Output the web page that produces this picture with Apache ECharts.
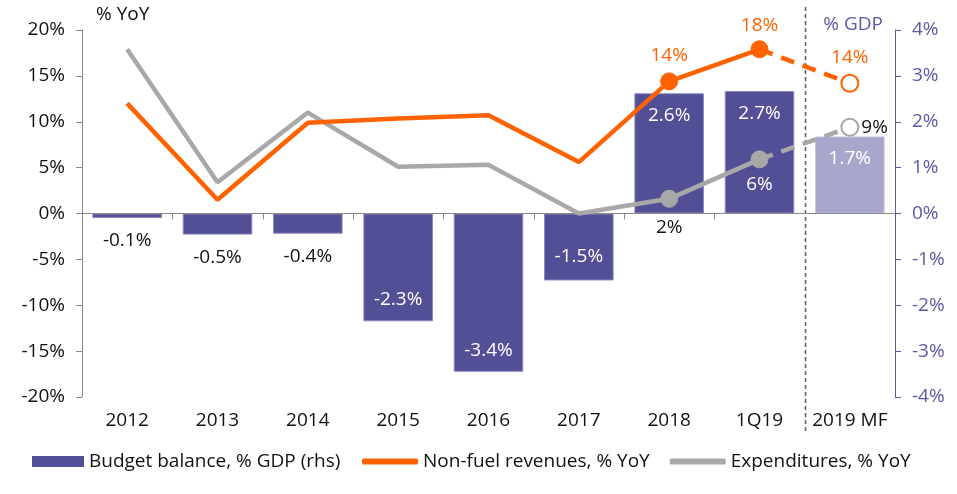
<!DOCTYPE html>
<html><head><meta charset="utf-8">
<script src="https://cdn.jsdelivr.net/npm/echarts@6/dist/echarts.min.js"></script>
<style>html,body{margin:0;padding:0;background:#fff}#c{width:957px;height:494px}</style>
</head><body><div id="c"></div>
<script>
const categories = ['2012','2013','2014','2015','2016','2017','2018','1Q19','2019 MF'];
const budgetBalance = [-0.1,-0.46,-0.44,-2.35,-3.45,-1.46,2.62,2.67,1.68];
const budgetLabels = ['-0.1%','-0.5%','-0.4%','-2.3%','-3.4%','-1.5%','2.6%','2.7%','1.7%'];
const nonFuelRevenues = [12.0,1.5,9.9,10.35,10.7,5.6,14.4,17.9,14.2];
const expenditures = [17.9,3.4,11.0,5.1,5.3,0.0,1.6,5.9,9.4];
const leftTicks = [-20,-15,-10,-5,0,5,10,15,20];
const rightTicks = [-4,-3,-2,-1,0,1,2,3,4];

const FONT = 'Open Sans';
const FS = 19;
const ORANGE = '#FF6200', GREY = '#A8A8A8', PURPLE = '#524F96', LIGHTP = '#A8A6CB', AXP = '#5B59A6';
const n = categories.length;

const barData = budgetBalance.map((v,i)=>{
  const neg = v < 0, small = Math.abs(v) < 1;
  const d = {value:v, itemStyle:{color: i===n-1?LIGHTP:PURPLE, borderColor: i===n-1?'#C7C6DE':'#8A88BC', borderWidth:1}};
  let pos, color='#fff', dist=14;
  if (small && neg) { pos='bottom'; color='#111'; dist=13; }
  else if (neg) { pos='insideBottom'; dist = (i===5?14:12); }
  else { pos='insideTop'; dist=13; }
  d.label = {show:true, position:pos, distance:dist, color:color, formatter: budgetLabels[i]};
  return d;
});

const solidPart = (arr)=>arr.map((v,i)=> i<n-1 ? v : null);
const dashPart = (arr)=>arr.map((v,i)=> i>=n-2 ? v : null);

function markerPts(arr, color, labels){
  return arr.map((v,i)=>{
    if (i===6 || i===7) {
      const o = {value:v, symbol:'circle', symbolSize:17, itemStyle:{color:color, borderColor:color}};
      if (labels[i]) o.label = labels[i];
      return o;
    }
    return {value:v, symbol:'none'};
  });
}

const legendText = {fontFamily:FONT, fontSize:FS, color:'#111'};
const option = {
  animation:false,
  textStyle:{fontFamily:FONT},
  grid:{left:82, right:62, top:30, bottom:97, containLabel:false},
  legend:[
    {left:32, top:452, padding:0, itemWidth:52, itemHeight:11, itemGap:20, textStyle:legendText,
     data:[{name:'Budget balance, % GDP (rhs)', icon:'rect'}]},
    {left:362, top:452, padding:0, itemWidth:56, itemHeight:6, itemGap:20, textStyle:legendText,
     data:[{name:'Non-fuel revenues, % YoY', icon:'roundRect'},{name:'Expenditures, % YoY', icon:'roundRect'}]}
  ],
  xAxis:{
    type:'category', data:categories,
    axisLine:{onZero:false, show:false},
    axisTick:{show:false},
    axisLabel:{fontFamily:FONT, fontSize:FS, color:'#111', margin:14, interval:0, hideOverlap:false}
  },
  yAxis:[
    {type:'value', min:-20, max:20, interval:5, name:'% YoY', nameLocation:'end',
     nameGap:6, nameTextStyle:{fontFamily:FONT, fontSize:FS, color:'#111', align:'left', padding:[0,0,0,14]},
     axisLine:{show:true, lineStyle:{color:'#888'}},
     axisTick:{show:true, length:6, lineStyle:{color:'#888'}},
     splitLine:{show:false},
     axisLabel:{fontFamily:FONT, fontSize:FS, color:'#111', margin:17, formatter:v=>v+'%'}},
    {type:'value', min:-4, max:4, interval:1, position:'right', name:'% GDP', nameLocation:'end',
     nameGap:5, nameTextStyle:{fontFamily:FONT, fontSize:FS, color:AXP, align:'right', verticalAlign:'middle', padding:[0,12,0,0]},
     axisLine:{show:true, lineStyle:{color:AXP}},
     axisTick:{show:true, length:6, lineStyle:{color:AXP}},
     splitLine:{show:false},
     axisLabel:{fontFamily:FONT, fontSize:FS, color:AXP, margin:17, formatter:v=>v+'%'}}
  ],
  series:[
    {name:'Budget balance, % GDP (rhs)', type:'bar', yAxisIndex:1, data:barData, barCategoryGap:'23%',
     itemStyle:{color:PURPLE}, label:{fontFamily:FONT, fontSize:FS}, z:2},
    {name:'Non-fuel revenues, % YoY', type:'line', yAxisIndex:0, data:markerPts(solidPart(nonFuelRevenues), ORANGE,
       {6:{show:true, position:'top', distance:7, color:ORANGE, formatter:'14%'}, 7:{show:true, position:'top', distance:5, color:ORANGE, formatter:'18%'}}),
     lineStyle:{color:ORANGE, width:4.5}, itemStyle:{color:ORANGE}, label:{fontFamily:FONT, fontSize:FS}, z:5},
    {name:'Expenditures, % YoY', type:'line', yAxisIndex:0, data:markerPts(solidPart(expenditures), GREY,
       {6:{show:true, position:'bottom', distance:10, color:'#111', formatter:'2%'}, 7:{show:true, position:'bottom', distance:7, color:'#fff', formatter:'6%'}}),
     lineStyle:{color:GREY, width:4.5}, itemStyle:{color:GREY}, label:{fontFamily:FONT, fontSize:FS}, z:4},
    {name:'revDash', type:'line', yAxisIndex:0,
     data:dashPart(nonFuelRevenues).map((v,i)=> i===n-1 ? {value:v, symbol:'circle', symbolSize:17,
        itemStyle:{color:'#fff', borderColor:ORANGE, borderWidth:2},
        label:{show:true, position:'top', distance:7, color:ORANGE, formatter:'14%', fontFamily:FONT, fontSize:FS}} : {value:v, symbol:'none'}),
     lineStyle:{color:ORANGE, width:4.5, type:[14,9]}, z:5},
    {name:'expDash', type:'line', yAxisIndex:0,
     data:dashPart(expenditures).map((v,i)=> i===n-1 ? {value:v, symbol:'circle', symbolSize:17,
        itemStyle:{color:'#fff', borderColor:GREY, borderWidth:2},
        label:{show:true, position:'right', distance:2, color:'#111', formatter:'9%', fontFamily:FONT, fontSize:FS}} : {value:v, symbol:'none'}),
     lineStyle:{color:GREY, width:4.5, type:[14,9]}, z:4}
  ]
};

const chart = echarts.init(document.getElementById('c'), null, {renderer:'canvas'});
chart.setOption(option);

const p0 = chart.convertToPixel({yAxisIndex:0}, 0);
const pTop = chart.convertToPixel({yAxisIndex:0}, 20);
const pBot = chart.convertToPixel({yAxisIndex:0}, -20);
const xs = categories.map(c=>chart.convertToPixel({xAxisIndex:0}, c));
const step = xs[1]-xs[0];
const left = xs[0]-step/2, right = xs[n-1]+step/2;
const g = [];
g.push({type:'line', shape:{x1:left, y1:p0, x2:right, y2:p0}, style:{stroke:'#888', lineWidth:1}, z:3});
for (let i=1;i<n-1;i++){
  const x = Math.round(xs[i]-step/2)+0.5;
  g.push({type:'line', shape:{x1:x, y1:p0, x2:x, y2:p0+6}, style:{stroke:'#888', lineWidth:1}, z:3});
}
const sepX = Math.round((xs[n-2]+xs[n-1])/2)+0.5;
g.push({type:'line', shape:{x1:sepX, y1:pTop-23, x2:sepX, y2:pBot+35}, style:{stroke:'#666', lineWidth:1.6, lineDash:[4,3]}, z:1});
chart.setOption({graphic:g});
</script>
</body></html>
